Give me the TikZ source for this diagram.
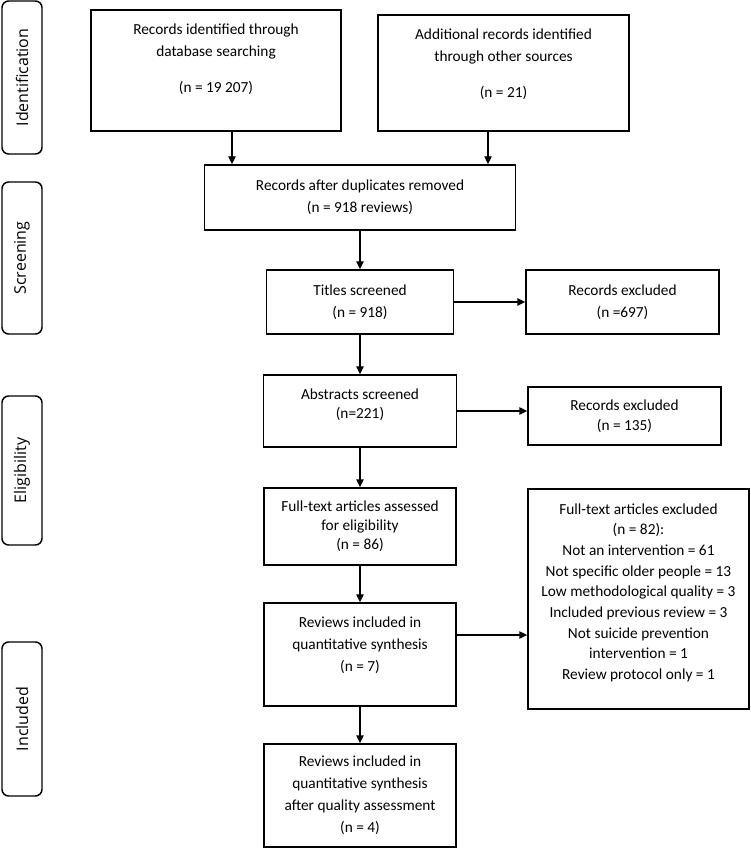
\documentclass[tikz,border=0pt]{standalone}
\usepackage{fontspec}
\setmainfont{Carlito}
\newfontfamily\sidefont{Open Sans}
\usetikzlibrary{arrows.meta}

\begin{document}
\begin{tikzpicture}[x=0.75pt,y=-0.75pt,line width=1.1pt,
  box/.style={draw,align=center,inner sep=0pt,font=\fontsize{11.5}{16.5}\selectfont},
  phase/.style={draw,rounded corners=5pt,rotate=90,inner sep=0pt,
    minimum height=30pt,font=\sidefont\fontsize{12}{14}\selectfont},
  arr/.style={-{Triangle[length=6pt,width=5.5pt]}}]

\useasboundingbox (0,0) rectangle (750,848);

% phases
\node[phase,minimum width=114.75pt] (ID) at (22,77.5) {Identification};
\node[phase,minimum width=114pt] (SC) at (22,258) {Screening};
\node[phase,minimum width=111.75pt] (EL) at (22,470.5) {Eligibility};
\node[phase,minimum width=115.5pt] (IN) at (22,719) {Included};

% boxes
\node[box,minimum width=187.5pt,minimum height=90.75pt] (DB) at (216,70.5)
 {Records identified through\\database searching\\[11pt](n = 19 207)\\[2pt]\mbox{}};
\node[box,minimum width=188.25pt,minimum height=87pt] (OS) at (503.5,73)
 {Additional records identified\\through other sources\\[11pt](n = 21)\\[-2pt]\mbox{}};
\node[box,minimum width=233.25pt,minimum height=48.75pt] (DUP) at (360,197.5)
 {Records after duplicates removed\\(n = 918 reviews)};
\node[box,minimum width=140.25pt,minimum height=48pt] (TS) at (360,302)
 {Titles screened\\(n = 918)};
\node[box,minimum width=144.75pt,minimum height=48pt] (EX1) at (622.5,302)
 {Records excluded\\(n =697)};
\node[box,minimum width=144.75pt,minimum height=54pt] (AS) at (360,411)
 {Abstracts screened\\[-2.25pt](n=221)\\[-5pt]\mbox{}};
\node[box,minimum width=144.75pt,minimum height=43.5pt] (EX2) at (624.5,416)
 {Records excluded\\[-1.5pt](n = 135)};
\node[box,minimum width=144pt,minimum height=57.75pt] (FT) at (360,526.5)
 {Full-text articles assessed\\[-2.25pt]for eligibility\\[-2.25pt](n = 86)};
\node[box,minimum width=165.75pt,minimum height=165pt,font=\fontsize{11.5}{15.5}\selectfont] (FTX) at (638.5,599)
 {Full-text articles excluded\\(n = 82):\\Not an intervention = 61\\Not specific older people = 13\\
  Low methodological quality = 3\\Included previous review = 3\\Not suicide prevention\\
  intervention = 1\\Review protocol only = 1\\[-4.25pt]\mbox{}};
\node[box,minimum width=144pt,minimum height=77.25pt] (RQ) at (360,654.5)
 {Reviews included in\\quantitative synthesis\\(n = 7)\\[-1pt]\mbox{}};
\node[box,minimum width=144pt,minimum height=77.25pt] (RQA) at (360,795.5)
 {Reviews included in\\quantitative synthesis\\after quality assessment\\(n = 4)};

% arrows
\draw[arr] ([xshift=12pt]DB.south) -- ([xshift=12pt]DB.south |- DUP.north);
\draw[arr] ([xshift=-11.6pt]OS.south) -- ([xshift=-11.6pt]OS.south |- DUP.north);
\draw[arr] (DUP) -- (TS);
\draw[arr,line width=1.6pt] (TS) -- (EX1);
\draw[arr] (TS) -- (AS);
\draw[arr] (AS.east) -- (AS.east -| EX2.west);
\draw[arr] (AS) -- (FT);
\draw[arr] (FT) -- (RQ);
\draw[arr] ([yshift=14.6pt]RQ.east) -- ([yshift=14.6pt]RQ.east -| FTX.west);
\draw[arr] (RQ) -- (RQA);

\end{tikzpicture}
\end{document}
